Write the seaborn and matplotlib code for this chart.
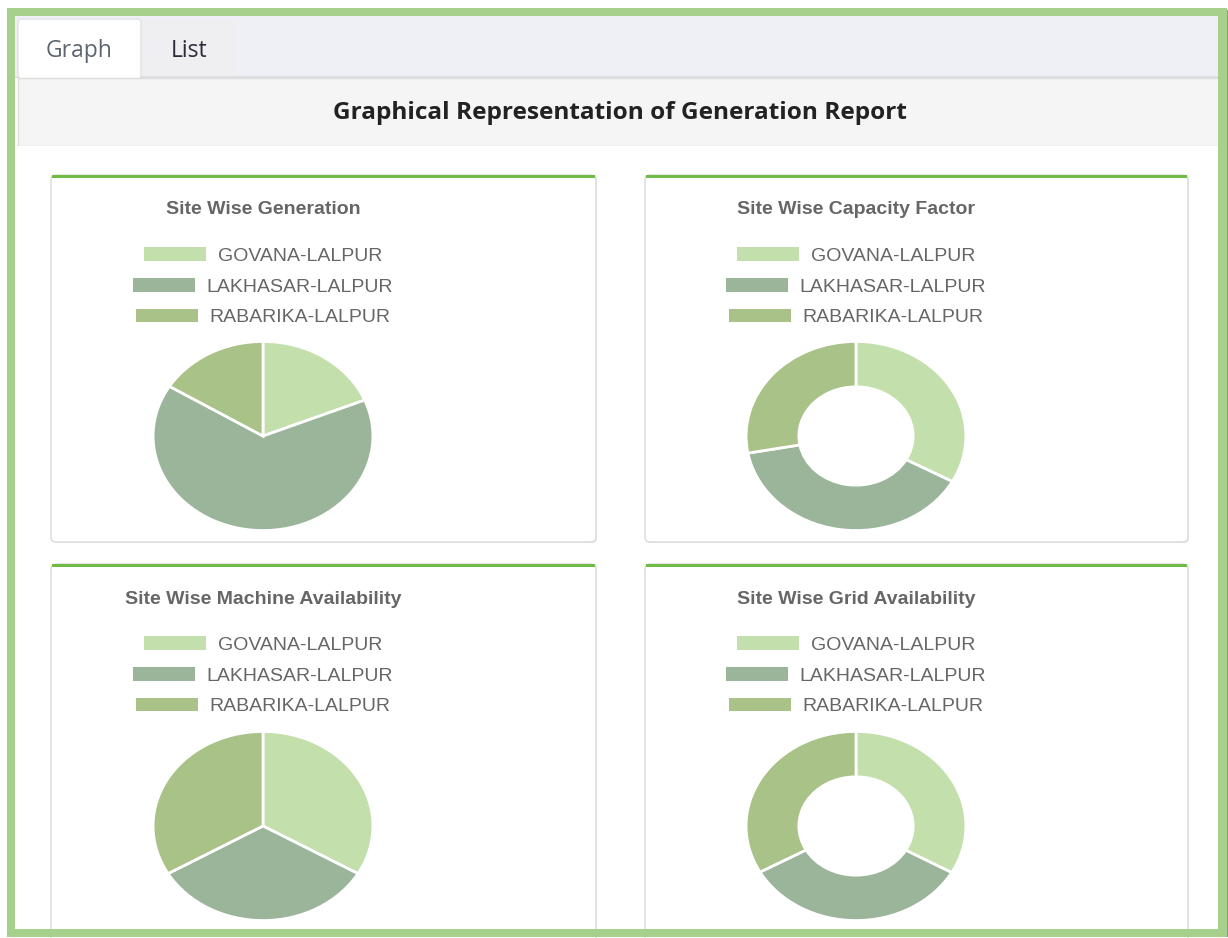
import numpy as np
import pandas as pd
import seaborn as sns
import matplotlib.pyplot as plt
from matplotlib.patches import Rectangle, FancyBboxPatch, Patch

# data (share of each site, %)
sites = ['GOVANA-LALPUR', 'LAKHASAR-LALPUR', 'RABARIKA-LALPUR']
site_colors = ['#c3dfab', '#9bb59b', '#a9c287']

generation = [18.8, 65.0, 16.2]
capacity_factor = [33.0, 39.1, 27.9]
machine_availability = [33.4, 33.2, 33.4]
grid_availability = [33.2, 33.7, 33.1]

chart_titles = ['Site Wise Generation', 'Site Wise Capacity Factor',
                'Site Wise Machine Availability', 'Site Wise Grid Availability']
page_title = 'Graphical Representation of Generation Report'
tab_labels = ['Graph', 'List']

W, H = 1228, 938

sns.set_theme(style='white')
plt.rcParams['font.family'] = ['Liberation Sans', 'DejaVu Sans']
palette = sns.color_palette(site_colors)


def px_rect(x0, y0, x1, y1):
    return [x0 / W, 1 - y1 / H, (x1 - x0) / W, (y1 - y0) / H]


fig = plt.figure(figsize=(W / 100, H / 100), dpi=100)
fig.patch.set_facecolor('white')

bg = fig.add_axes([0, 0, 1, 1])
bg.set_xlim(0, W)
bg.set_ylim(H, 0)
bg.axis('off')

# tab bar + header
bg.add_patch(Rectangle((15, 16), 1203, 61, fc='#eef0f5', ec='none'))
bg.add_patch(Rectangle((15, 76), 1203, 2, fc='#dcdfe4', ec='none'))
bg.add_patch(FancyBboxPatch((18, 19), 123, 60, boxstyle='round,pad=0,rounding_size=4',
                            fc='white', ec='#dfe2e6', lw=1))
bg.add_patch(Rectangle((142, 19), 93, 57, fc='#efeff1', ec='none'))
bg.add_patch(Rectangle((17.5, 78), 1201, 68, fc='#f5f5f5', ec='#dddddd', lw=1))
bg.add_patch(Rectangle((15, 146.5), 1203, 790, fc='white', ec='none'))

bg.text(79, 51, tab_labels[0], ha='center', va='center', fontsize=16.5,
        family='Open Sans', color='#5d6670')
bg.text(189, 51, tab_labels[1], ha='center', va='center', fontsize=16.5,
        family='Open Sans', color='#2e2a3c')
bg.text(620, 113, page_title, ha='center', va='center', fontsize=17.6,
        family='Open Sans', weight='bold', color='#222222')

# cards
cards = [(51, 175, 596, 542), (645, 175, 1188, 542),
         (51, 564, 596, 945), (645, 564, 1188, 945)]
centers = [(263, 436), (856, 436), (263, 826), (856, 826)]
series = [generation, capacity_factor, machine_availability, grid_availability]
donut = [False, True, False, True]

for (x0, y0, x1, y1) in cards:
    bg.add_patch(FancyBboxPatch((x0 + 1, y0 + 1), x1 - x0, y1 - y0,
                                boxstyle='round,pad=0,rounding_size=5',
                                fc='#e6e6e6', ec='none'))
    bg.add_patch(FancyBboxPatch((x0, y0), x1 - x0, y1 - y0,
                                boxstyle='round,pad=0,rounding_size=5',
                                fc='white', ec='#dadada', lw=1))
    bg.add_patch(Rectangle((x0 + 1, y0), x1 - x0 - 2, 3.5, fc='#6fbb45', ec='none'))

fs = 14
fpx = fs * 100 / 72
for k, (cx, cy) in enumerate(centers):
    top = cards[k][1]
    bg.text(cx, top + 35, chart_titles[k], ha='center', va='center', fontsize=fs,
            weight='bold', color='#666666')
    for i, site in enumerate(sites):
        leg = bg.legend(handles=[Patch(fc=palette[i], ec='none')], labels=[site],
                        loc='center', bbox_to_anchor=(cx, top + 81 + 30.7 * i),
                        bbox_transform=bg.transData, frameon=False,
                        prop={'family': 'Liberation Sans', 'size': fs},
                        labelcolor='#666666', handlelength=62 / fpx,
                        handleheight=14 / fpx, handletextpad=12 / fpx,
                        borderpad=0, borderaxespad=0)
        bg.add_artist(leg)

    rx, ry = 111, 95.5
    ax = fig.add_axes(px_rect(cx - rx, cy - ry, cx + rx, cy + ry))
    wp = dict(edgecolor='white', linewidth=2)
    if donut[k]:
        wp['width'] = 0.48
    ax.pie(series[k], colors=palette, startangle=90, counterclock=False,
           wedgeprops=wp, radius=1)
    ax.set_aspect('auto')
    ax.set_xlim(-1.01, 1.01)
    ax.set_ylim(-1.01, 1.01)
    ax.axis('off')
bg.legend_ = None

# green frame on top
g = '#a8d08d'
bg.add_patch(Rectangle((7, 8), 1220, 8, fc=g, ec='none', zorder=10))
bg.add_patch(Rectangle((7, 929), 1220, 8, fc=g, ec='none', zorder=10))
bg.add_patch(Rectangle((7, 8), 8, 929, fc=g, ec='none', zorder=10))
bg.add_patch(Rectangle((1218, 8), 8.5, 929, fc=g, ec='none', zorder=10))
bg.add_patch(Rectangle((1226.5, 10), 1.5, 927, fc='#8a9a80', ec='none', zorder=10))

fig.savefig('out.png', dpi=100)
